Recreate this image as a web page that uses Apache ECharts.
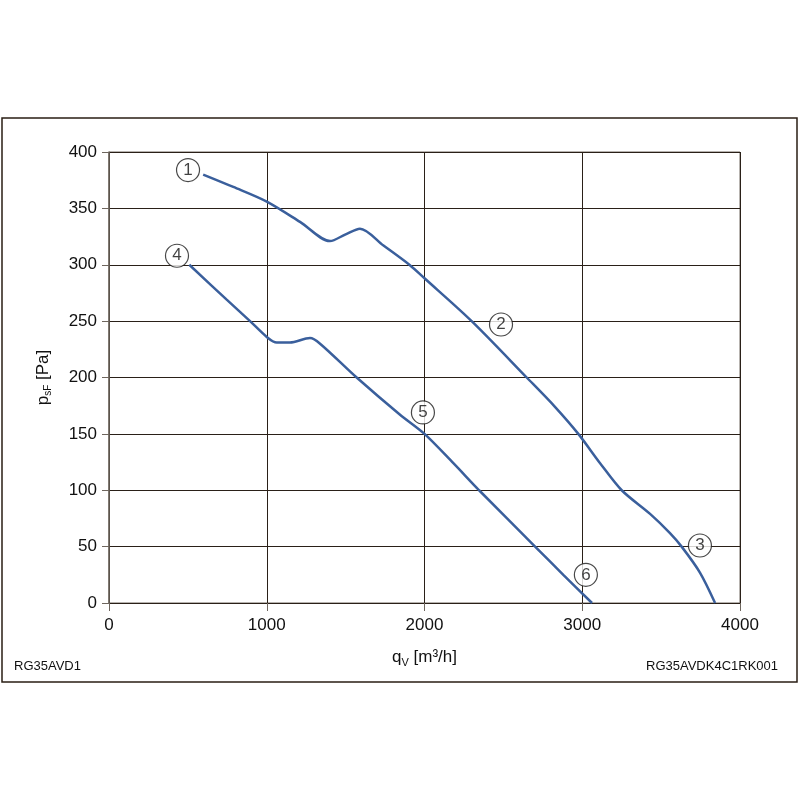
<!DOCTYPE html>
<html><head><meta charset="utf-8">
<script src="https://cdn.jsdelivr.net/npm/echarts@6/dist/echarts.min.js"></script>
<style>html,body{margin:0;padding:0;background:#fff}#c{width:800px;height:800px}</style>
</head><body><div id="c"></div>
<script>
// Curve 1-2-3 (upper)
const q1 = [597, 788, 1000, 1211, 1401, 1500, 1591, 1740, 1904, 2000, 2299, 2648, 2827, 2975, 3113, 3250, 3430, 3556, 3630, 3746, 3842];
const p1 = [380, 369, 356, 338, 321, 327, 332, 317, 300, 288, 250, 200, 174, 150, 124, 100, 79, 62, 50, 27, 0];
// Curve 4-5-6 (lower)
const q4 = [509, 746, 894, 1000, 1063, 1147, 1274, 1338, 1570, 1845, 2000, 2183, 2346, 2701, 2880, 3062];
const p4 = [300, 269, 250, 236, 231, 231, 235, 230, 200, 167, 150, 124, 100, 50, 25, 0];
// Circled point labels
const markQ = [501, 2485, 3746, 431, 1990, 3023];
const markP = [384, 247, 51, 308, 169, 25];
const markText = ['1', '2', '3', '4', '5', '6'];

const zip = (a, b) => a.map((v, i) => [v, b[i]]);
const font = 'Liberation Sans, Arial, sans-serif';
const chart = echarts.init(document.getElementById('c'));
chart.setOption({
  animation: false,
  backgroundColor: '#fff',
  grid: { left: 109, top: 152, width: 631, height: 451, show: true, borderColor: '#6e665e', borderWidth: 1 },
  xAxis: {
    type: 'value', min: 0, max: 4000, interval: 1000,
    axisLine: { show: true, lineStyle: { color: '#2a2018', width: 1 } },
    axisTick: { show: true, length: 8, lineStyle: { color: '#6e665e' } },
    splitLine: { show: true, lineStyle: { color: '#2a2018', width: 1 } },
    axisLabel: { color: '#111', fontSize: 17, fontFamily: font, margin: 14, formatter: v => String(v) },
    name: '{n|q}{s|V}{n| [m³/h]}', nameLocation: 'middle', nameGap: 44,
    nameTextStyle: { rich: {
      n: { fontSize: 17, fontFamily: font, color: '#111' },
      s: { fontSize: 11, fontFamily: font, color: '#111', padding: [10, 0, 0, 0] }
    } }
  },
  yAxis: {
    type: 'value', min: 0, max: 400, interval: 50,
    axisLine: { show: true, lineStyle: { color: '#6e665e', width: 1.5 } },
    axisTick: { show: true, length: 7, lineStyle: { color: '#6e665e' } },
    splitLine: { show: true, lineStyle: { color: '#2a2018', width: 1 } },
    axisLabel: { color: '#111', fontSize: 17, fontFamily: font, margin: 12, formatter: v => String(v) },
    name: '{n|p}{s|sF}{n| [Pa]}', nameLocation: 'middle', nameGap: 56, nameRotate: 90,
    nameTextStyle: { rich: {
      n: { fontSize: 17, fontFamily: font, color: '#111' },
      s: { fontSize: 10, fontFamily: font, color: '#111', padding: [10, 0, 0, 0] }
    } }
  },
  series: [
    { type: 'line', data: zip(q1, p1), smooth: 0.3, showSymbol: false,
      lineStyle: { color: '#3a5f9c', width: 2.5 }, z: 3 },
    { type: 'line', data: zip(q4, p4), smooth: 0.3, showSymbol: false,
      lineStyle: { color: '#3a5f9c', width: 2.5 }, z: 3 },
    { type: 'scatter', data: markQ.map((q, i) => ({ value: [q, markP[i]], name: markText[i] })),
      symbol: 'circle', symbolSize: 23,
      itemStyle: { color: '#fff', borderColor: '#1a1a1a', borderWidth: 1.2 },
      label: { show: true, position: 'inside', formatter: p => p.name, color: '#111', fontSize: 17, fontFamily: font },
      z: 5 }
  ],
  graphic: [
    { type: 'rect', shape: { x: 2, y: 118, width: 795, height: 564 }, style: { fill: 'none', stroke: '#2a1e14', lineWidth: 1.5 }, z: -1 },
    { type: 'text', left: 14, top: 660, style: { text: 'RG35AVD1', fontSize: 13, fontFamily: font, fill: '#111' } },
    { type: 'text', right: 22, top: 660, style: { text: 'RG35AVDK4C1RK001', fontSize: 13, fontFamily: font, fill: '#111' } }
  ]
});
</script></body></html>
